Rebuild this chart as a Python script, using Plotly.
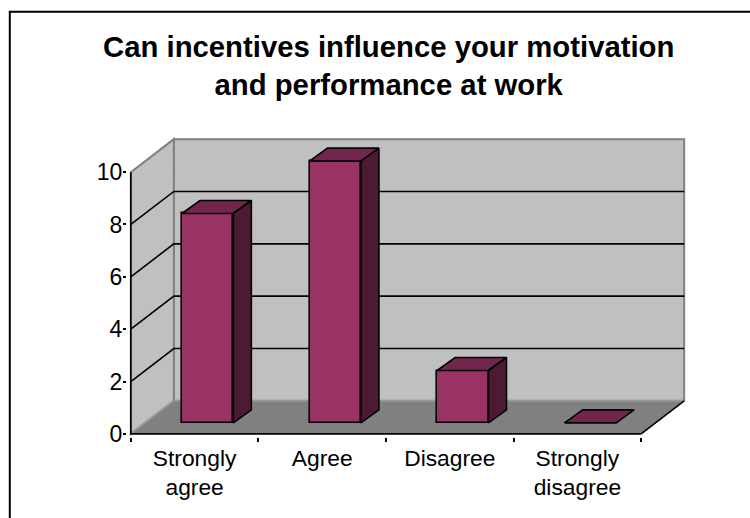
import plotly.graph_objects as go

categories = ["Strongly<br>agree", "Agree", "Disagree", "Strongly<br>disagree"]
values = [8, 10, 2, 0]
y_ticks = [0, 2, 4, 6, 8, 10]

W, H = 750, 518
# pixel frame of the 3-D box
X0, X4, XBACK = 130.5, 640.7, 684.0
Y0, Y10, YTOP = 433.7, 172.0, 140.7
ux = (X4 - X0) / 4
uy = (Y0 - Y10) / 10
# depth of the box, and of the bars, in data units
DX, DY = 43 / ux, 33 / uy
BDX, BDY = 18 / ux, 13 / uy
# bars stand on the floor, offset into the depth
OFFX, OFFY = 13 / ux, 11.0 / uy
BARW = 0.403
# padding round the axes
PX, PY = 0.03, 0.12
xr = [-PX, DX + 4 + PX]
yr = [-PY, DY + 10 + PY]
FRONT, TOP, SIDE = "#993366", "#73264D", "#4D1A33"
WALL, FLOOR, EDGE = "#C0C0C0", "#808080", "#808080"
LW = 1.6

def path(pts):
    return "M " + " L ".join(f"{x:.4f} {y:.4f}" for x, y in pts) + " Z"

def open_path(pts):
    return "M " + " L ".join(f"{x:.4f} {y:.4f}" for x, y in pts)

shapes = []
def add(pts, fill=None, line=None, lw=1, closed=True):
    shapes.append(dict(type="path", xref="x", yref="y", layer="below",
                       path=path(pts) if closed else open_path(pts),
                       fillcolor=fill if fill else "rgba(0,0,0,0)",
                       line=dict(color=line if line else "rgba(0,0,0,0)", width=lw)))

add([(DX, DY), (4 + DX, DY), (4 + DX, 10 + DY), (DX, 10 + DY)], WALL, EDGE, 2)
add([(0, 0), (DX, DY), (DX, 10 + DY), (0, 10)], WALL, EDGE, 2)
add([(0, 0), (4, 0), (4 + DX, DY), (DX, DY)], FLOOR, None)
for v in y_ticks[1:-1]:
    add([(0, v), (DX, v + DY), (4 + DX, v + DY)], None, "#000000", LW, closed=False)
add([(0, 0), (DX, DY)], None, "#A0A0A0", 1.2, closed=False)
add([(DX, DY), (4 + DX, DY)], None, "#A0A0A0", 1.2, closed=False)
add([(4, 0), (4 + DX, DY)], None, "#000000", LW, closed=False)
add([(0, 10), (0, 0), (4, 0)], None, "#000000", LW, closed=False)

FRAME_L, FRAME_T = 9.5, 11.5

fig = go.Figure()
xs = [i + 0.5 + OFFX for i in range(len(values))]
fig.add_bar(x=xs, y=values, base=OFFY, width=BARW,
            marker=dict(color=FRONT, line=dict(color="#000000", width=LW)),
            showlegend=False, hoverinfo="skip")
for x, v in zip(xs, values):
    l, r = x - BARW / 2, x + BARW / 2
    t, b = OFFY + v, OFFY
    fig.add_scatter(x=[l, r, r + BDX, l + BDX, l], y=[t, t, t + BDY, t + BDY, t],
                    mode="lines", fill="toself", fillcolor=TOP,
                    line=dict(color="#000000", width=LW), showlegend=False, hoverinfo="skip")
    if v > 0:
        fig.add_scatter(x=[r, r + BDX, r + BDX, r, r], y=[t, t + BDY, b + BDY, b, t],
                        mode="lines", fill="toself", fillcolor=SIDE,
                        line=dict(color="#000000", width=LW), showlegend=False, hoverinfo="skip")

# pixel layout of the axis box
left = X0 - PX * ux
right = left + (xr[1] - xr[0]) * ux
bottom = Y0 + PY * uy
top = bottom - (yr[1] - yr[0]) * uy

def px(x):
    return (x - left) / (right - left)

def py(y):
    return (bottom - y) / (bottom - top)

# outer chart frame: only its left and top edges fall inside the picture
shapes.append(dict(type="path", xref="paper", yref="paper", layer="above",
                   path=f"M {px(FRAME_L):.5f} {py(H + 5):.5f} L {px(FRAME_L):.5f} {py(FRAME_T):.5f} L {px(W + 5):.5f} {py(FRAME_T):.5f}",
                   line=dict(color="#000000", width=2)))

font = dict(family="Liberation Sans, Arial, sans-serif", color="#000000")
fig.update_layout(
    width=W, height=H, autosize=False, showlegend=False, bargap=0,
    paper_bgcolor="#FFFFFF", plot_bgcolor="rgba(0,0,0,0)",
    margin=dict(l=left, r=W - right, t=top, b=H - bottom, pad=0),
    shapes=shapes,
    annotations=[dict(xref="paper", yref="paper", text="<b>Can incentives influence your motivation<br>and performance at work</b>",
                      x=px(388), y=py(65),
                      showarrow=False, xanchor="center", yanchor="middle",
                      font=dict(size=29.3, **font))],
    xaxis=dict(range=xr, tickmode="array", tickvals=[i + 0.5 for i in range(4)], ticktext=categories,
               ticks="", showgrid=False, zeroline=False, showline=False, tickangle=0,
               ticklabelstandoff=5, tickfont=dict(size=22.8, **font),
               minor=dict(tickmode="array", tickvals=list(range(5)), ticks="outside", ticklen=4,
                          tickcolor="#000000", tickwidth=LW, showgrid=False)),
    yaxis=dict(range=yr, tickmode="array", tickvals=y_ticks, ticks="outside", ticklen=3, tickcolor="#000000",
               tickwidth=LW, showgrid=False, zeroline=False, showline=False,
               ticklabelstandoff=-4, tickfont=dict(size=23, **font)),
)
fig.write_html("out.html", config={"displayModeBar": False},
               post_script="document.body.style.margin='0';document.documentElement.style.overflow='hidden';")
